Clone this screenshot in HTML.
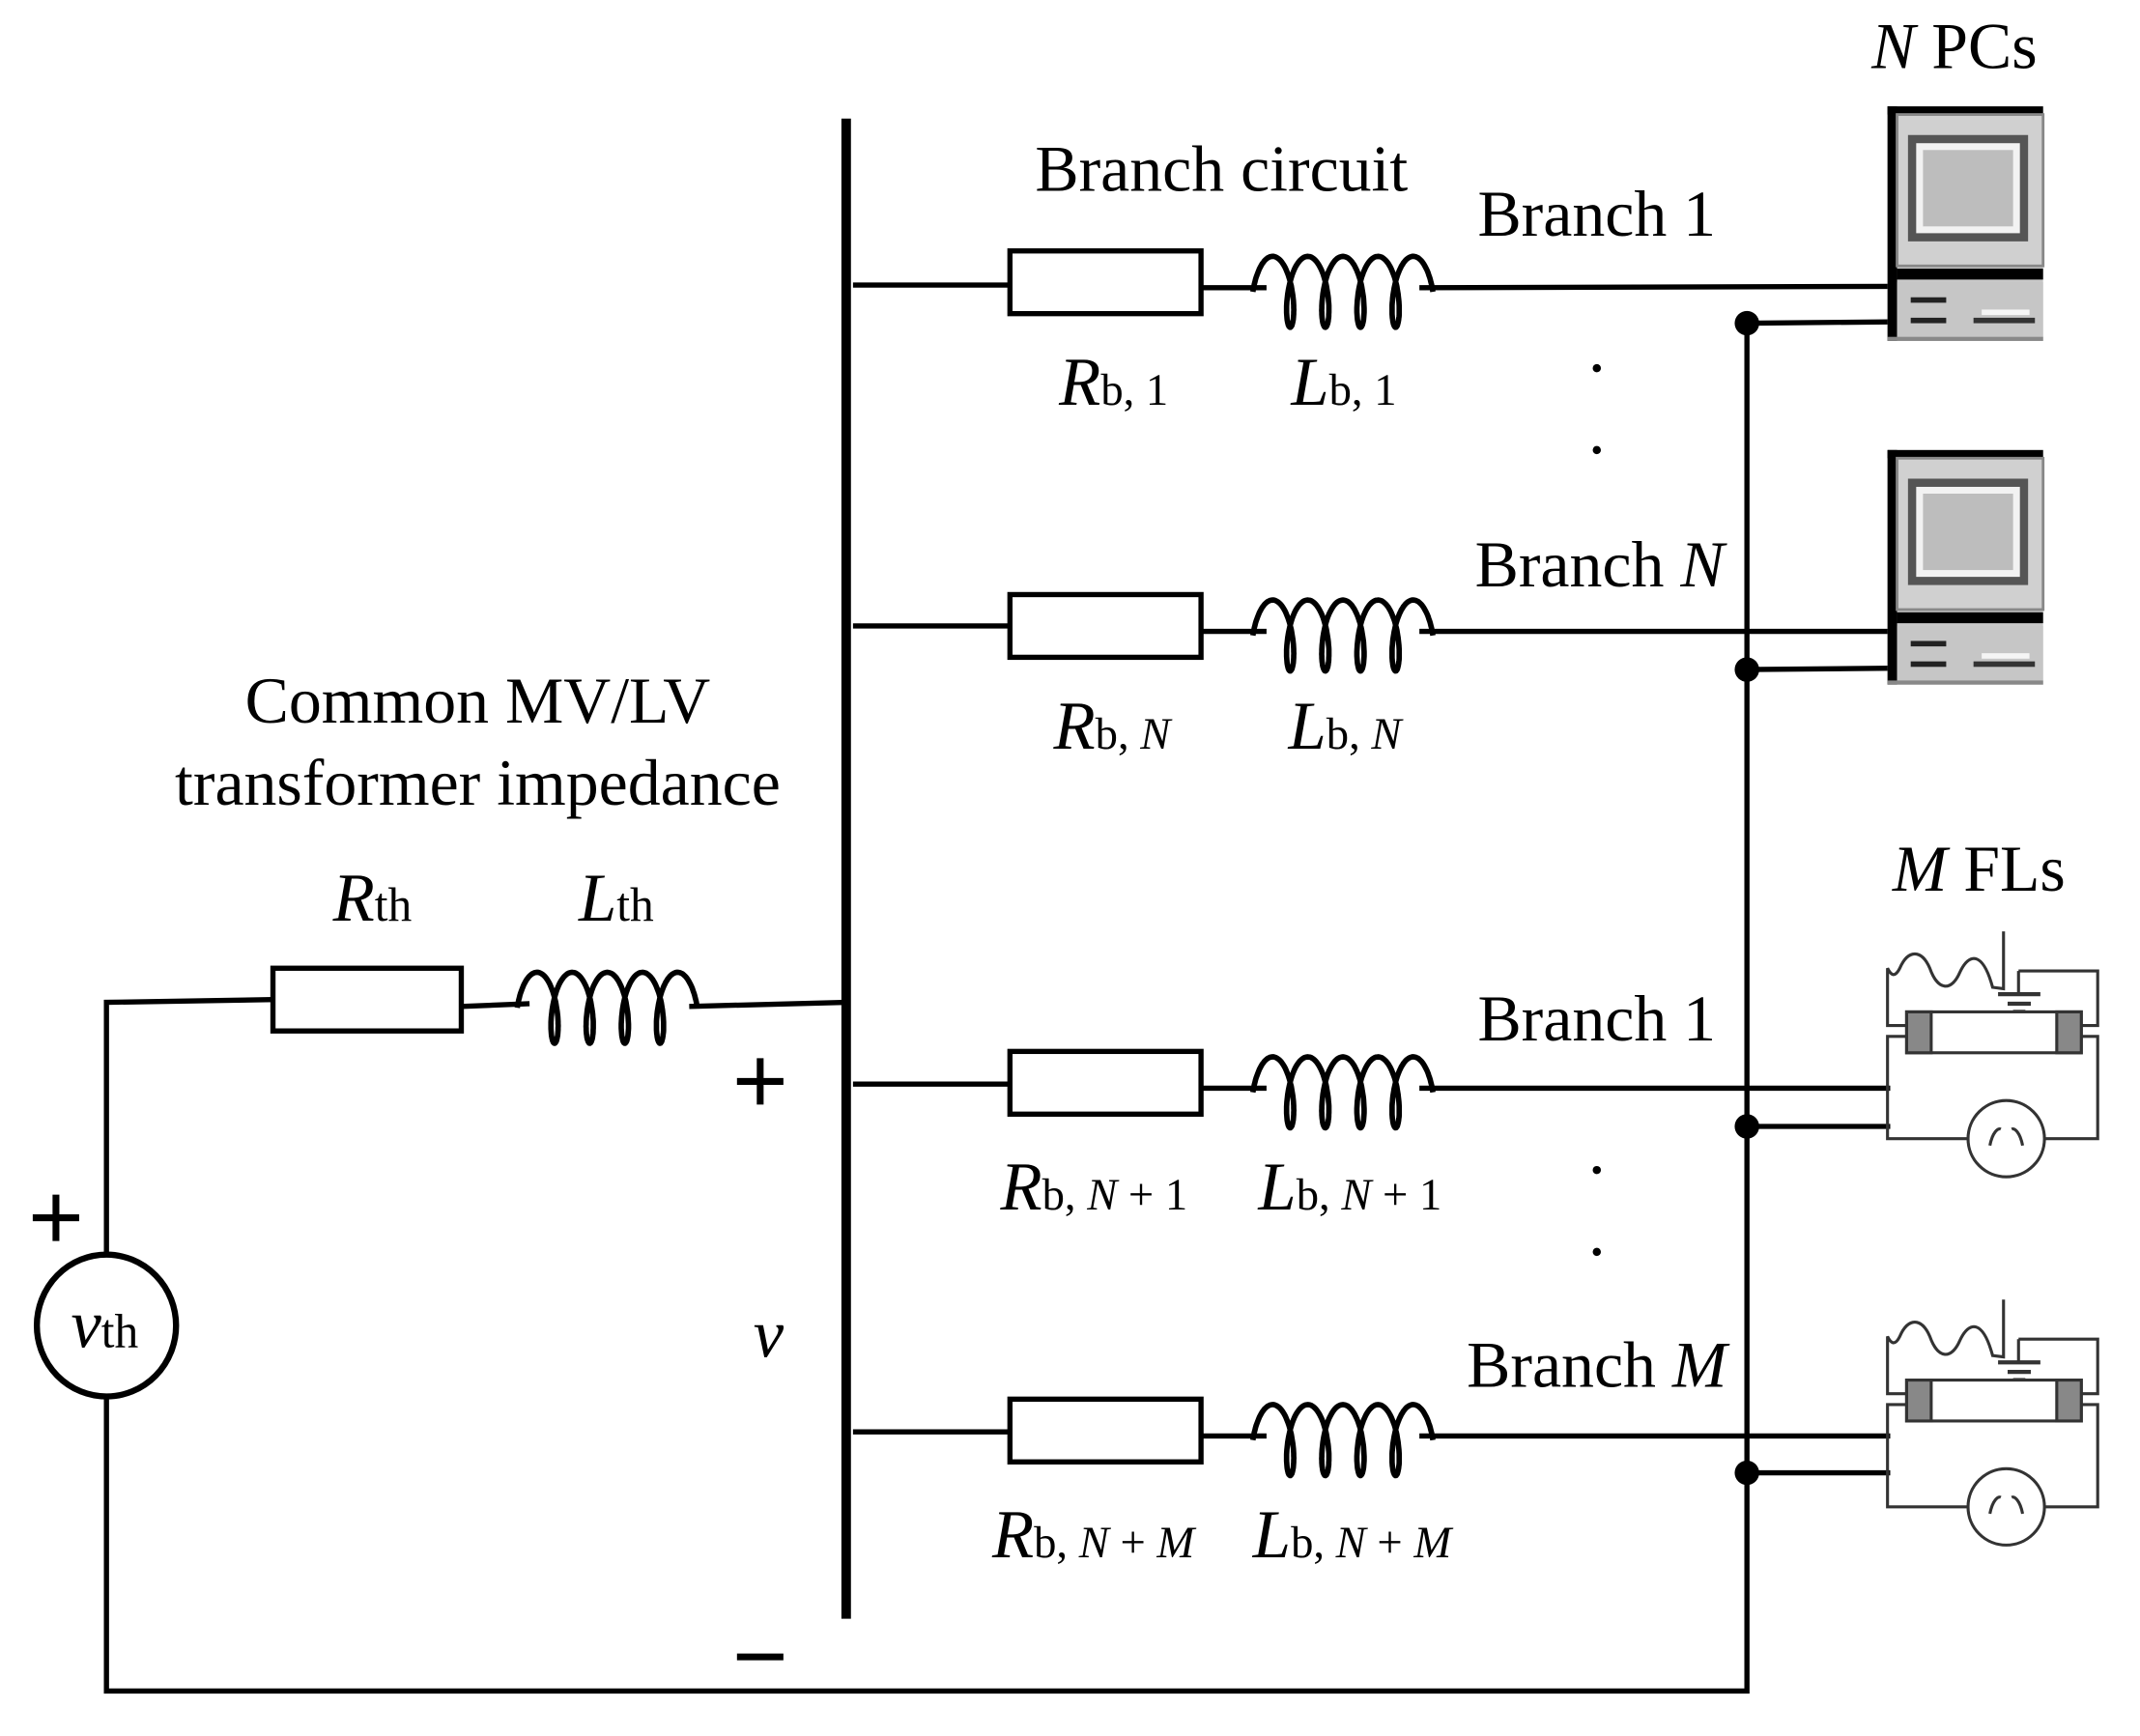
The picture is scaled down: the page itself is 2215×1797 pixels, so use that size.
<!DOCTYPE html>
<html><head><meta charset="utf-8"><style>
html,body{margin:0;padding:0;background:#fff}
svg{display:block}
text{font-family:"Liberation Serif",serif;fill:#000}
</style></head><body>
<svg id="s" width="2215" height="1797" viewBox="0 0 1568 1273" preserveAspectRatio="none" xmlns="http://www.w3.org/2000/svg">
<g stroke="#000" stroke-width="3.8" fill="none">
<polyline points="78,920 78,735 200,733"/>
<rect x="200" y="710" width="138" height="46" fill="#fff"/>
<line x1="338" y1="738" x2="388" y2="736"/>
<line x1="505" y1="738" x2="620" y2="735"/>
<ellipse cx="78" cy="972" rx="51" ry="52" stroke-width="4.5"/>
<polyline points="78,1024 78,1240 1280,1240 1280,237"/>
<line x1="625" y1="209" x2="740" y2="209"/><rect x="740" y="184" width="140" height="46" fill="#fff"/><line x1="880" y1="211" x2="928" y2="211"/><line x1="1040" y1="211" x2="1385" y2="210"/>
<line x1="625" y1="459" x2="740" y2="459"/><rect x="740" y="436" width="140" height="46" fill="#fff"/><line x1="880" y1="463" x2="928" y2="463"/><line x1="1040" y1="463" x2="1385" y2="463"/>
<line x1="625" y1="795" x2="740" y2="795"/><rect x="740" y="771" width="140" height="46" fill="#fff"/><line x1="880" y1="798" x2="928" y2="798"/><line x1="1040" y1="798" x2="1385" y2="798"/>
<line x1="625" y1="1050" x2="740" y2="1050"/><rect x="740" y="1026" width="140" height="46" fill="#fff"/><line x1="880" y1="1053" x2="928" y2="1053"/><line x1="1040" y1="1053" x2="1385" y2="1053"/>
<line x1="1280" y1="237" x2="1385" y2="236"/>
<line x1="1280" y1="491" x2="1385" y2="490"/>
<line x1="1280" y1="826" x2="1385" y2="826"/>
<line x1="1280" y1="1080" x2="1385" y2="1080"/>
</g>
<line x1="620" y1="87" x2="620" y2="1187" stroke="#000" stroke-width="7"/>
<g id="coils" stroke="#000" stroke-width="4" fill="none"></g>
<g fill="#000">
<circle cx="1280" cy="237" r="9"/><circle cx="1280" cy="491" r="9"/><circle cx="1280" cy="826" r="9"/><circle cx="1280" cy="1080" r="9"/>
<circle cx="1170" cy="270" r="3"/><circle cx="1170" cy="330" r="3"/><circle cx="1170" cy="858" r="3"/><circle cx="1170" cy="918" r="3"/>
</g>
<g stroke="#000" stroke-width="5">
<line x1="24" y1="893" x2="58" y2="893"/><line x1="41" y1="876" x2="41" y2="910"/>
<line x1="540" y1="793" x2="574" y2="793"/><line x1="557" y1="776" x2="557" y2="810"/>
<line x1="540" y1="1215" x2="574" y2="1215"/>
</g>
<g id="pc1">
<rect x="1383" y="78" width="114" height="172" fill="#c8c8c8"/>
<rect x="1383" y="78" width="114" height="6" fill="#000"/>
<rect x="1383" y="78" width="7" height="172" fill="#000"/>
<rect x="1390" y="84" width="107" height="111" fill="#d0d0d0" stroke="#888" stroke-width="2"/>
<rect x="1398" y="99" width="88" height="78" fill="#555"/>
<rect x="1404" y="105" width="76" height="66" fill="#f2f2f2"/>
<rect x="1409" y="110" width="66" height="56" fill="#bdbdbd"/>
<rect x="1390" y="197" width="107" height="8" fill="#000"/>
<rect x="1390" y="207" width="107" height="43" fill="#c6c6c6"/>
<rect x="1400" y="218" width="26" height="4" fill="#222"/>
<rect x="1400" y="233" width="26" height="4" fill="#222"/>
<rect x="1446" y="233" width="45" height="4" fill="#333"/>
<rect x="1452" y="227" width="35" height="4" fill="#f5f5f5"/>
<rect x="1383" y="247" width="114" height="3" fill="#888"/>
</g>
<use href="#pc1" y="252"/>
<g id="fl1" stroke="#333" stroke-width="2.2" fill="none">
<path d="M1468,683 L1468,725 L1460,724 C1453,698 1443,698 1436,713 C1430,727 1420,727 1414,710 C1408,696 1398,696 1392,710 C1388,718 1385,714 1383,710 L1383,752 L1397,752"/>
<polyline points="1479,712 1537,712 1537,752 1525,752"/>
<line x1="1479" y1="712" x2="1479" y2="728"/>
<line x1="1464" y1="729" x2="1495" y2="729" stroke-width="3"/>
<line x1="1471" y1="736" x2="1488" y2="736" stroke-width="3"/>
<line x1="1475" y1="742" x2="1484" y2="742" stroke-width="3"/>
<rect x="1397" y="742" width="128" height="30" fill="#fff"/>
<rect x="1397" y="742" width="18" height="30" fill="#888"/>
<rect x="1507" y="742" width="18" height="30" fill="#888"/>
<polyline points="1397,760 1383,760 1383,835 1537,835 1537,760 1525,760"/>
<circle cx="1470" cy="835" r="28" fill="#fff"/>
<path d="M1458,840 C1460,830 1464,827 1466,828 M1482,840 C1480,830 1476,827 1474,828"/>
</g>
<use href="#fl1" y="270"/>
<text x="350" y="530" font-size="48" text-anchor="middle">Common MV/LV</text>
<text x="350" y="590" font-size="48" text-anchor="middle">transformer impedance</text>
<text x="244" y="675" font-size="50"><tspan font-style="italic">R</tspan><tspan font-size="35">th</tspan></text>
<text x="424" y="675" font-size="50"><tspan font-style="italic">L</tspan><tspan font-size="35">th</tspan></text>
<text x="52" y="988" font-size="50"><tspan font-style="italic">v</tspan><tspan font-size="35">th</tspan></text>
<text x="552" y="995" font-size="50" font-style="italic">v</text>
<text x="895" y="140" font-size="48" text-anchor="middle">Branch circuit</text>
<text x="1170" y="173" font-size="48" text-anchor="middle">Branch 1</text>
<text x="1172" y="430" font-size="48" text-anchor="middle">Branch <tspan font-style="italic">N</tspan></text>
<text x="1170" y="763" font-size="48" text-anchor="middle">Branch 1</text>
<text x="1170" y="1017" font-size="48" text-anchor="middle">Branch <tspan font-style="italic">M</tspan></text>
<text x="1432" y="50" font-size="48" text-anchor="middle"><tspan font-style="italic">N</tspan> PCs</text>
<text x="1450" y="653" font-size="48" text-anchor="middle"><tspan font-style="italic">M</tspan> FLs</text>
<text x="776" y="297" font-size="50"><tspan font-style="italic">R</tspan><tspan font-size="33">b, 1</tspan></text>
<text x="946" y="297" font-size="50"><tspan font-style="italic">L</tspan><tspan font-size="33">b, 1</tspan></text>
<text x="772" y="549" font-size="50"><tspan font-style="italic">R</tspan><tspan font-size="33">b, <tspan font-style="italic">N</tspan></tspan></text>
<text x="944" y="549" font-size="50"><tspan font-style="italic">L</tspan><tspan font-size="33">b, <tspan font-style="italic">N</tspan></tspan></text>
<text x="733" y="887" font-size="50"><tspan font-style="italic">R</tspan><tspan font-size="33">b, <tspan font-style="italic">N</tspan> + 1</tspan></text>
<text x="922" y="887" font-size="50"><tspan font-style="italic">L</tspan><tspan font-size="33">b, <tspan font-style="italic">N</tspan> + 1</tspan></text>
<text x="727" y="1142" font-size="50"><tspan font-style="italic">R</tspan><tspan font-size="33">b, <tspan font-style="italic">N</tspan> + <tspan font-style="italic">M</tspan></tspan></text>
<text x="918" y="1142" font-size="50"><tspan font-style="italic">L</tspan><tspan font-size="33">b, <tspan font-style="italic">N</tspan> + <tspan font-style="italic">M</tspan></tspan></text>
</svg>
<script>
(function(){
var g=document.getElementById('coils');
function coil(x0,yw){
 var a=4.1,b=8,h=26,yc=yw+3,pts=[];
 var t0=-Math.PI/2,t1=8*Math.PI+Math.PI/2;
 for(var i=0;i<=400;i++){var t=t0+(t1-t0)*i/400;
  var x=x0+a*(t-t0)+b*Math.sin(t)+b; var y=yc-h*Math.cos(t);
  pts.push(x.toFixed(1)+','+y.toFixed(1));}
 var p=document.createElementNS('http://www.w3.org/2000/svg','polyline');
 p.setAttribute('points',pts.join(' '));g.appendChild(p);
}
coil(379,736);coil(918,211);coil(918,463);coil(918,798);coil(918,1053);
})();
</script>
</body></html>
